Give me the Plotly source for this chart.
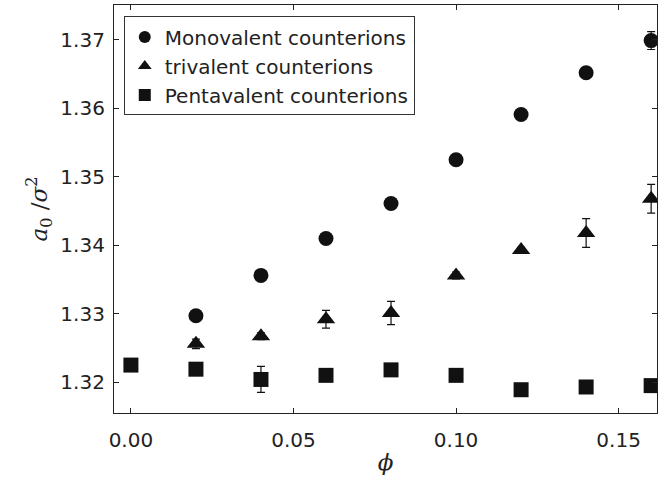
import plotly.graph_objects as go

phi_mono = [0.02, 0.04, 0.06, 0.08, 0.10, 0.12, 0.14, 0.16]
a_mono = [1.3297, 1.3356, 1.3410, 1.3461, 1.3525, 1.3591, 1.3652, 1.3699]
err_mono = [0.0003, 0.0003, 0.0003, 0.0008, 0.0003, 0.0003, 0.0003, 0.0013]

phi_tri = [0.02, 0.04, 0.06, 0.08, 0.10, 0.12, 0.14, 0.16]
a_tri = [1.3256, 1.3267, 1.3292, 1.3301, 1.3356, 1.3393, 1.3418, 1.3468]
err_tri = [0.0007, 0.0005, 0.0013, 0.0017, 0.0005, 0.0004, 0.0021, 0.0021]

phi_penta = [0.00, 0.02, 0.04, 0.06, 0.08, 0.10, 0.12, 0.14, 0.16]
a_penta = [1.3225, 1.3219, 1.3204, 1.3210, 1.3218, 1.3210, 1.3189, 1.3193, 1.3195]
err_penta = [0.0003, 0.0003, 0.0019, 0.0003, 0.0003, 0.0005, 0.0003, 0.0003, 0.0003]

names = ["Monovalent counterions", "trivalent counterions", "Pentavalent counterions"]
x_ticks = [0.00, 0.05, 0.10, 0.15]
y_ticks = [1.32, 1.33, 1.34, 1.35, 1.36, 1.37]

col = "#111111"
fig = go.Figure()
for xs, ys, es, nm, sym, sz in [
    (phi_mono, a_mono, err_mono, names[0], "circle", 15),
    (phi_tri, a_tri, err_tri, names[1], "triangle-up", 16),
    (phi_penta, a_penta, err_penta, names[2], "square", 15),
]:
    fig.add_trace(go.Scatter(
        x=xs, y=ys, mode="markers", name=nm,
        marker=dict(symbol=sym, size=sz, color=col),
        error_y=dict(type="data", array=es, visible=True, color=col, thickness=1.2, width=4),
    ))

axis_common = dict(
    showline=True, linecolor="#222", linewidth=1.2, mirror="ticks",
    ticks="inside", ticklen=5, tickcolor="#222", showgrid=False, zeroline=False,
    tickfont=dict(family="DejaVu Sans", size=20, color="#222"),
)
fig.update_xaxes(range=[-0.0052, 0.1618], tickvals=x_ticks, ticktext=["0.00", "0.05", "0.10", "0.15"],
                 ticklabelstandoff=9,
                 title=dict(text="<i>ϕ</i>", font=dict(family="DejaVu Serif", size=23, color="#222"), standoff=2),
                 **axis_common)
fig.update_yaxes(range=[1.3155, 1.3751], tickvals=y_ticks, ticktext=[f"{v:.2f}" for v in y_ticks],
                 ticklabelstandoff=4,
                 title=dict(text="<i>a</i><sub>0</sub> /<i>σ</i><sup>2</sup>", font=dict(family="DejaVu Serif", size=23, color="#222"), standoff=6),
                 **axis_common)
fig.update_layout(
    width=668, height=482, margin=dict(l=114, r=11, t=5, b=69),
    plot_bgcolor="white", paper_bgcolor="white",
    legend=dict(x=0.018, y=0.972, xanchor="left", yanchor="top", bordercolor="#333", borderwidth=1,
                bgcolor="white", font=dict(family="DejaVu Sans", size=20, color="#222"),
                itemsizing="constant", itemwidth=30, tracegroupgap=0),
    showlegend=True,
)
fig.write_html("out.html")
